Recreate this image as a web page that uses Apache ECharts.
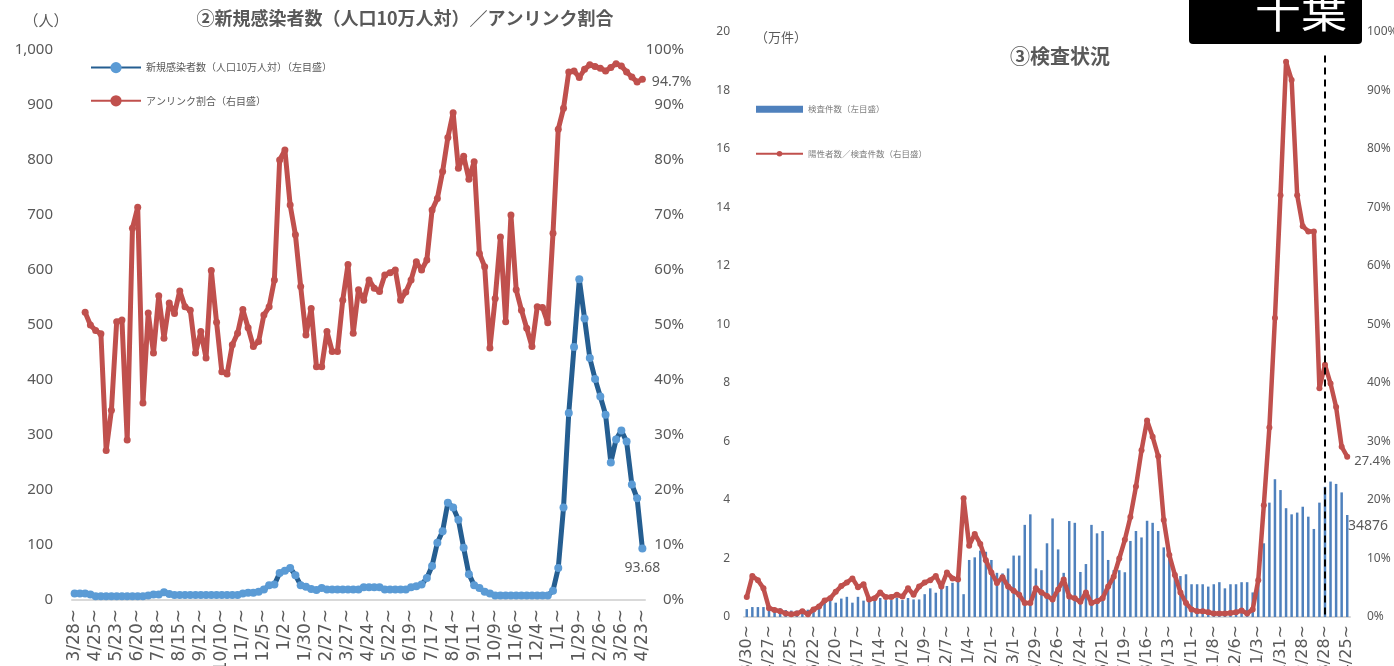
<!DOCTYPE html>
<html>
<head>
<meta charset="utf-8">
<script src="https://cdn.jsdelivr.net/npm/echarts@6/dist/echarts.min.js"></script>
<style>
html, body { margin: 0; padding: 0; background: #fff; }
#main { width: 1394px; height: 666px; }
</style>
</head>
<body>
<div id="main"></div>
<script>
// weekly categories (left chart starts 2020/3/28, right chart 2020/3/30)
function weekLabels(y, m, d, n) {
    var out = [];
    var t = Date.UTC(y, m - 1, d);
    for (var i = 0; i < n; i++) {
        var dt = new Date(t + i * 7 * 864e5);
        out.push((dt.getUTCMonth() + 1) + '/' + dt.getUTCDate() + '~');
    }
    return out;
}
var weeksLeft = weekLabels(2020, 3, 28, 109);
var weeksRight = weekLabels(2020, 3, 30, 109);

// ② new cases per 100k (left axis)
var newCases = [
    12, 12, 12, 10, 7, 7, 7, 7, 7, 7,
    7, 7, 7, 7, 8, 10, 10, 14, 11, 9,
    9, 9, 9, 9, 9, 9, 9, 9, 9, 9,
    9, 9, 12, 13, 13, 15, 19, 27, 28, 49,
    53, 58, 45, 27, 24, 20, 18, 22, 19, 19,
    19, 19, 19, 19, 19, 23, 23, 23, 23, 19,
    19, 19, 19, 19, 23, 25, 28, 40, 62, 104,
    125, 177, 168, 146, 95, 47, 27, 22, 15, 12,
    8, 8, 8, 8, 8, 8, 8, 8, 8, 8,
    8, 17, 58, 168, 340, 460, 583, 512, 440, 402,
    370, 337, 250, 292, 308, 288, 210, 185, 93.68
];
// ② unlinked ratio % (right axis)
var unlinkedRate = [
    null, null, 52.3, 50, 49, 48.4, 27.2, 34.5, 50.6, 50.9,
    29.1, 67.6, 71.4, 35.8, 52.2, 44.9, 55.3, 47.6, 54, 52.1,
    56.2, 53.3, 52.7, 44.9, 48.8, 44, 59.9, 50.5, 41.5, 41.1,
    46.4, 48.5, 52.8, 49.5, 46.1, 47, 51.8, 53.3, 58.2, 80,
    81.8, 71.8, 66.4, 57, 48.2, 53, 42.4, 42.4, 48.8, 45.2,
    45.2, 54.5, 61, 48.5, 56.4, 54.5, 58.2, 56.7, 56.1, 59.1,
    59.5, 60, 54.5, 56, 58.2, 61.5, 60, 61.8, 70.9, 73,
    77.9, 84.1, 88.6, 78.5, 80.7, 76.5, 79.7, 63, 60.6, 45.8,
    54.8, 66, 50.6, 70, 56.4, 52.7, 49.4, 46.1, 53.3, 53.2,
    50.4, 66.7, 85.6, 89.4, 96, 96.2, 95, 96.5, 97.3, 97,
    96.7, 96.2, 96.8, 97.5, 97.1, 96, 95.1, 94.2, 94.7
];

// ③ tests (万件, left axis)
var tests = [
    0.27, 0.34, 0.34, 0.34, 0.3, 0.3, 0.3, 0.24, 0.22, 0.22,
    0.22, 0.25, 0.33, 0.4, 0.51, 0.56, 0.49, 0.63, 0.69, 0.49,
    0.69, 0.56, 0.56, 0.58, 0.65, 0.58, 0.58, 0.65, 0.58, 0.65,
    0.6, 0.6, 0.78, 0.98, 0.83, 1.04, 1.06, 1.17, 1.21, 0.78,
    1.95, 2.04, 2.27, 2.23, 1.95, 1.51, 1.49, 1.66, 2.1, 2.1,
    3.15, 3.51, 1.66, 1.6, 2.52, 3.37, 2.31, 1.51, 3.28, 3.22,
    1.54, 1.81, 3.15, 2.86, 2.94, 1.95, 1.6, 1.6, 1.53, 2.6,
    2.94, 2.72, 3.29, 3.22, 2.94, 2.38, 2.12, 1.38, 1.4, 1.46,
    1.12, 1.12, 1.12, 1.04, 1.12, 1.19, 0.98, 1.12, 1.12, 1.19,
    1.19, 0.84, 1.72, 2.52, 3.91, 4.71, 4.34, 3.72, 3.51, 3.57,
    3.77, 3.43, 3.01, 3.91, 4.45, 4.63, 4.55, 4.26, 3.4876
];
// ③ positives / tests % (right axis)
var positivity = [
    3.4, 7.0, 6.3, 4.9, 1.5, 1.2, 1.0, 0.6, 0.46, 0.6,
    1.0, 0.46, 1.3, 1.8, 2.8, 3.2, 4.3, 5.3, 5.9, 6.6,
    5.1, 5.6, 3.0, 3.2, 4.2, 3.4, 3.4, 3.8, 3.5, 4.9,
    3.8, 5.2, 5.9, 6.3, 7.0, 5.2, 7.6, 6.6, 6.4, 20.3,
    12.2, 14.2, 12.5, 9.7, 7.6, 5.8, 6.8, 5.2, 4.5, 3.8,
    2.4, 2.4, 4.9, 4.2, 3.6, 3.0, 4.7, 6.4, 3.5, 3.2,
    2.6, 4.2, 2.4, 2.7, 3.2, 5.2, 6.9, 10.0, 13.2, 17.1,
    22.3, 28.5, 33.6, 30.8, 27.5, 16.6, 10.6, 7.2, 4.2, 2.4,
    1.3, 1.0, 1.0, 0.8, 0.6, 0.6, 0.6, 0.7, 0.8, 1.1,
    0.6, 1.3, 6.3, 19.1, 32.4, 51.1, 72.1, 94.9, 91.8, 72.1,
    66.8, 65.9, 65.9, 39.1, 43.1, 39.9, 35.9, 29.1, 27.4
];
var dashWeek = 104;

var FONT = '"Noto Sans", "Noto Sans CJK JP", sans-serif';
var JP = '"Noto Sans CJK JP", sans-serif';
var LABEL_FONT = '"DejaVu Sans", sans-serif';
var grey = '#595959';

function lastLabeled(arr, label) {
    return arr.map(function (v, i) {
        if (i !== arr.length - 1) return v;
        return { value: v, label: label };
    });
}

var myChart = echarts.init(document.getElementById('main'));
var option = {
    animation: false,
    textStyle: { fontFamily: FONT },
    graphic: [
        { type: 'text', x: 405, y: 18, style: { text: '②新規感染者数（人口10万人対）／アンリンク割合', align: 'center', verticalAlign: 'middle', font: 'bold 18px ' + JP, fill: grey } },
        { type: 'text', x: 46, y: 20, style: { text: '（人）', align: 'center', verticalAlign: 'middle', font: '15px ' + JP, fill: grey } },
        { type: 'text', x: 1060, y: 56, style: { text: '③検査状況', align: 'center', verticalAlign: 'middle', font: 'bold 20px ' + JP, fill: grey } },
        { type: 'text', x: 781, y: 37, style: { text: '（万件）', align: 'center', verticalAlign: 'middle', font: '13px ' + JP, fill: grey } },
        { type: 'rect', z: 100, shape: { x: 1189, y: -10, width: 173, height: 54, r: 4 }, style: { fill: '#000' } },
        { type: 'text', z: 101, x: 1301, y: 10, style: { text: '千葉', align: 'center', verticalAlign: 'middle', font: '46px ' + JP, fill: '#fff' } }
    ],
    legend: [
        {
            data: ['新規感染者数（人口10万人対）（左目盛）', 'アンリンク割合（右目盛）'],
            orient: 'vertical', left: 85, top: 57,
            itemWidth: 50, itemHeight: 14, itemGap: 22,
            textStyle: { fontSize: 10, color: grey, fontFamily: JP }
        },
        {
            data: [{ name: '検査件数（左目盛）', icon: 'rect' }, '陽性者数／検査件数（右目盛）'],
            orient: 'vertical', left: 750, top: 100,
            itemWidth: 47, itemHeight: 7, itemGap: 36,
            textStyle: { fontSize: 8.5, color: '#7f7f7f', fontFamily: JP }
        }
    ],
    grid: [
        { left: 72, top: 50, width: 573, height: 550, outerBoundsMode: 'none' },
        { left: 744, top: 32, width: 606, height: 585, outerBoundsMode: 'none' }
    ],
    xAxis: [
        {
            gridIndex: 0, type: 'category', data: weeksLeft, boundaryGap: true,
            axisLine: { lineStyle: { color: '#d9d9d9', width: 2 } },
            axisTick: { show: false },
            axisLabel: { interval: 3, rotate: 90, margin: 9, fontSize: 17, color: grey, fontFamily: LABEL_FONT }
        },
        {
            gridIndex: 1, type: 'category', data: weeksRight, boundaryGap: true,
            axisLine: { lineStyle: { color: '#d9d9d9', width: 2 } },
            axisTick: { show: false },
            axisLabel: { interval: 3, rotate: 90, margin: 8, fontSize: 16, color: grey, fontFamily: LABEL_FONT }
        }
    ],
    yAxis: [
        {
            gridIndex: 0, type: 'value', min: 0, max: 1000, interval: 100,
            splitLine: { show: false }, axisLine: { show: false }, axisTick: { show: false },
            axisLabel: { margin: 19, fontSize: 15, color: grey, formatter: function (v) { return v.toLocaleString('en-US'); } }
        },
        {
            gridIndex: 0, type: 'value', position: 'right', min: 0, max: 100, interval: 10,
            splitLine: { show: false }, axisLine: { show: false }, axisTick: { show: false },
            axisLabel: { margin: 39, align: 'right', fontSize: 15, color: grey, formatter: '{value}%' }
        },
        {
            gridIndex: 1, type: 'value', min: 0, max: 20, interval: 2,
            splitLine: { show: false }, axisLine: { show: false }, axisTick: { show: false },
            axisLabel: { margin: 14, fontSize: 12, color: grey }
        },
        {
            gridIndex: 1, type: 'value', position: 'right', min: 0, max: 100, interval: 10,
            splitLine: { show: false }, axisLine: { show: false }, axisTick: { show: false },
            axisLabel: { margin: 17, fontSize: 12, color: grey, formatter: '{value}%' }
        }
    ],
    series: [
        {
            name: '新規感染者数（人口10万人対）（左目盛）',
            type: 'line', xAxisIndex: 0, yAxisIndex: 0, z: 3,
            data: lastLabeled(newCases, { show: true, position: 'bottom', distance: 9, fontSize: 14, color: grey, formatter: '{c}' }),
            symbol: 'circle', symbolSize: 8, showAllSymbol: true,
            lineStyle: { color: '#255E91', width: 5 },
            itemStyle: { color: '#5B9BD5' }
        },
        {
            name: 'アンリンク割合（右目盛）',
            type: 'line', xAxisIndex: 0, yAxisIndex: 1, z: 2,
            data: lastLabeled(unlinkedRate, { show: true, position: 'right', distance: 6, offset: [0, 3], fontSize: 14, color: grey, formatter: '{c}%' }),
            symbol: 'circle', symbolSize: 7, showAllSymbol: true,
            lineStyle: { color: '#C0504D', width: 5 },
            itemStyle: { color: '#C0504D' }
        },
        {
            name: '検査件数（左目盛）',
            type: 'bar', xAxisIndex: 1, yAxisIndex: 2,
            data: lastLabeled(tests, { show: true, position: [2, 4], fontSize: 14, color: grey, formatter: function (p) { return Math.round(p.value * 10000); } }),
            barWidth: 2.5,
            itemStyle: { color: '#4F81BD' }
        },
        {
            name: '陽性者数／検査件数（右目盛）',
            type: 'line', xAxisIndex: 1, yAxisIndex: 3, z: 3,
            data: lastLabeled(positivity, { show: true, position: 'right', distance: 4, offset: [0, 5], fontSize: 13, color: grey, formatter: '{c}%' }),
            symbol: 'circle', symbolSize: 6, showAllSymbol: true,
            lineStyle: { color: '#C0504D', width: 4.5 },
            itemStyle: { color: '#C0504D' },
            markLine: {
                silent: true, symbol: ['none', 'none'],
                label: { show: false },
                lineStyle: { color: '#000', type: [7, 5], width: 2 },
                data: [[{ coord: [dashWeek, 96] }, { coord: [dashWeek, 0] }]]
            }
        }
    ]
};
myChart.setOption(option);
window.onresize = myChart.resize;
</script>
</body>
</html>
